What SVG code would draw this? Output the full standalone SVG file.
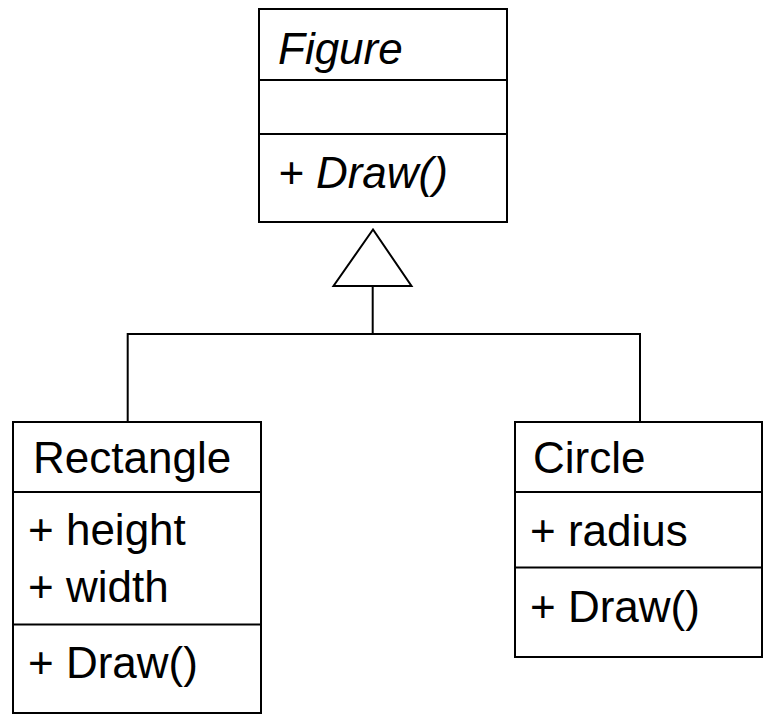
<svg xmlns="http://www.w3.org/2000/svg" width="769" height="714" viewBox="0 0 769 714">
<style>
.box{fill:#fff;stroke:#000;stroke-width:2}
.ln{fill:none;stroke:#000;stroke-width:2}
text{font-family:"Liberation Sans",Arial,sans-serif;font-size:44px;fill:#000}
.it{font-style:italic}
</style>
<rect width="769" height="714" fill="#fff"/>
<g id="connectors">
<polyline class="ln" points="127.7,422 127.7,334 640,334 640,422"/>
<line class="ln" x1="372.7" y1="286" x2="372.7" y2="334"/>
<polygon class="box" points="373,229.5 333.5,286 411.5,286"/>
</g>
<g id="figure">
<rect class="box" x="259" y="9" width="248" height="213"/>
<line class="ln" x1="259" y1="80" x2="507" y2="80"/>
<line class="ln" x1="259" y1="134" x2="507" y2="134"/>
<text class="it" x="278" y="64">Figure</text>
<text class="it" x="278" y="188">+ Draw()</text>
</g>
<g id="rectangle">
<rect class="box" x="13" y="422" width="248" height="291"/>
<line class="ln" x1="13" y1="492" x2="261" y2="492"/>
<line class="ln" x1="13" y1="624.5" x2="261" y2="624.5"/>
<text x="33" y="473">Rectangle</text>
<text x="28" y="545">+ height</text>
<text x="28" y="602">+ width</text>
<text x="28" y="678">+ Draw()</text>
</g>
<g id="circle">
<rect class="box" x="515" y="422" width="247" height="235"/>
<line class="ln" x1="515" y1="492" x2="762" y2="492"/>
<line class="ln" x1="515" y1="567.5" x2="762" y2="567.5"/>
<text x="533" y="473">Circle</text>
<text x="530" y="546">+ radius</text>
<text x="530" y="622">+ Draw()</text>
</g>
</svg>
